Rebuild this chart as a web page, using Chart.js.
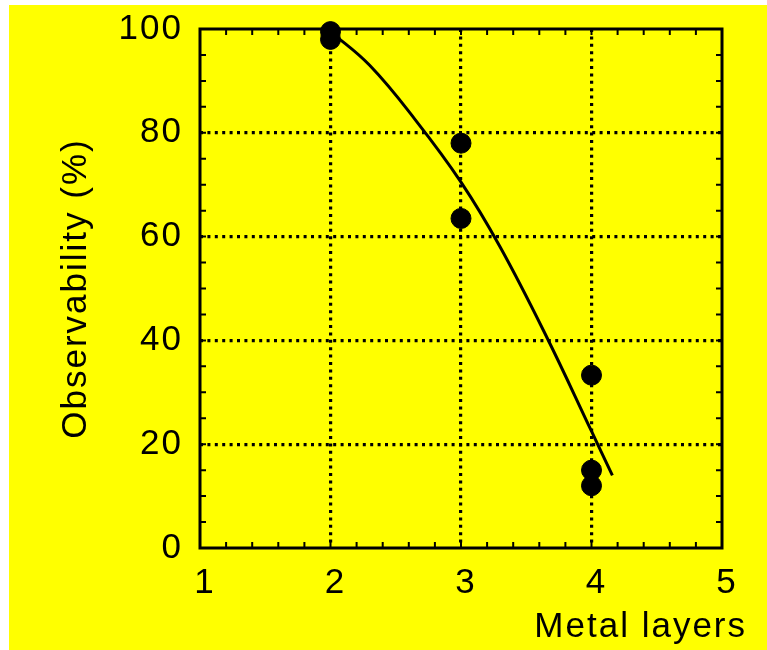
<!DOCTYPE html>
<html>
<head>
<meta charset="utf-8">
<script src="https://cdn.jsdelivr.net/npm/chart.js@4"></script>
<style>
  html, body { margin: 0; padding: 0; background: #fff; }
  canvas { display: block; }
</style>
</head>
<body>
<canvas id="obsChart" width="767" height="650"></canvas>
<script>
// measured points
const layerX = [2, 2, 3, 3, 4, 4, 4];
const observability = [99.5, 98, 78, 63.5, 33.3, 15, 12];

// fitted curve
const fitX = [2.0, 2.3, 2.65, 3.0, 3.3, 3.65, 4.0, 4.16];
const fitY = [99.5, 93, 82.5, 70.5, 58, 41, 22.5, 14];

// axis ticks
const xTicks = [1, 2, 3, 4, 5];
const yTicks = [0, 20, 40, 60, 80, 100];

const FONT = 'Liberation Sans, Arial, Helvetica, sans-serif';

// yellow paper + letter spacing
const paperPlugin = {
    id: 'paper',
    beforeDraw(chart) {
        const ctx = chart.ctx;
        ctx.save();
        ctx.fillStyle = '#ffffff';
        ctx.fillRect(0, 0, chart.width, chart.height);
        ctx.fillStyle = '#ffff00';
        ctx.fillRect(9, 5, chart.width - 9, chart.height - 5);
        ctx.restore();
        ctx.letterSpacing = '2px';
    }
};

// frame, inward minor ticks and the x axis title
const framePlugin = {
    id: 'frame',
    beforeDatasetsDraw(chart) {
        const ctx = chart.ctx;
        const a = chart.chartArea;
        const xs = chart.scales.x, ys = chart.scales.y;
        ctx.save();
        ctx.strokeStyle = '#000';
        ctx.lineWidth = 2;
        ctx.beginPath();
        for (let v = xs.min; v <= xs.max + 1e-9; v += 0.2) {
            const px = xs.getPixelForValue(v);
            ctx.moveTo(px, a.bottom); ctx.lineTo(px, a.bottom - 6);
            ctx.moveTo(px, a.top); ctx.lineTo(px, a.top + 6);
        }
        for (let v = ys.min; v <= ys.max + 1e-9; v += 5) {
            const py = ys.getPixelForValue(v);
            ctx.moveTo(a.left, py); ctx.lineTo(a.left + 6, py);
            ctx.moveTo(a.right, py); ctx.lineTo(a.right - 6, py);
        }
        ctx.stroke();
        ctx.lineWidth = 3;
        ctx.strokeRect(a.left, a.top, a.right - a.left, a.bottom - a.top);

        ctx.fillStyle = '#000';
        ctx.font = '35px ' + FONT;
        ctx.letterSpacing = '2px';
        ctx.textAlign = 'right';
        ctx.textBaseline = 'alphabetic';
        ctx.fillText('Metal layers', 747, 637);
        ctx.restore();
    }
};

const gridColor = function(c) {
    const v = c.tick && c.tick.value;
    return (v === c.scale.min || v === c.scale.max) ? 'rgba(0,0,0,0)' : '#000';
};

new Chart(document.getElementById('obsChart').getContext('2d'), {
    type: 'scatter',
    data: {
        datasets: [
            {
                label: 'fit',
                data: fitX.map((x, i) => ({ x: x, y: fitY[i] })),
                showLine: true,
                borderColor: '#000',
                borderWidth: 3,
                pointRadius: 0,
                tension: 0.4,
                fill: false
            },
            {
                label: 'measured',
                data: layerX.map((x, i) => ({ x: x, y: observability[i] })),
                backgroundColor: '#000',
                borderColor: '#000',
                pointRadius: 10,
                pointHoverRadius: 10,
                clip: false
            }
        ]
    },
    options: {
        responsive: false, animation: false,
        layout: { padding: { top: 29, right: 45, left: 0, bottom: 0 } },
        plugins: { legend: { display: false }, tooltip: { enabled: false } },
        scales: {
            x: {
                type: 'linear', min: 1, max: 5,
                afterBuildTicks: function(s) { s.ticks = xTicks.map(v => ({ value: v })); },
                afterFit: function(s) { s.height = 102; s.paddingLeft = 0; s.paddingRight = 0; },
                ticks: { color: '#000', font: { family: FONT, size: 35 }, padding: 14, labelOffset: 5 },
                grid: { color: gridColor, lineWidth: 3.2, drawTicks: false },
                border: { display: false, dash: [3, 4.4] }
            },
            y: {
                type: 'linear', min: 0, max: 100,
                afterBuildTicks: function(s) { s.ticks = yTicks.map(v => ({ value: v })); },
                afterFit: function(s) { s.width = 200; s.paddingTop = 0; s.paddingBottom = 0; },
                ticks: { color: '#000', font: { family: FONT, size: 35 }, padding: 17 },
                grid: { color: gridColor, lineWidth: 3.2, drawTicks: false },
                border: { display: false, dash: [3, 4.4] },
                title: {
                    display: true, text: 'Observability (%)', color: '#000',
                    font: { family: FONT, size: 35 }, padding: { top: 55, bottom: 0 }
                }
            }
        }
    },
    plugins: [paperPlugin, framePlugin]
});
</script>
</body>
</html>
